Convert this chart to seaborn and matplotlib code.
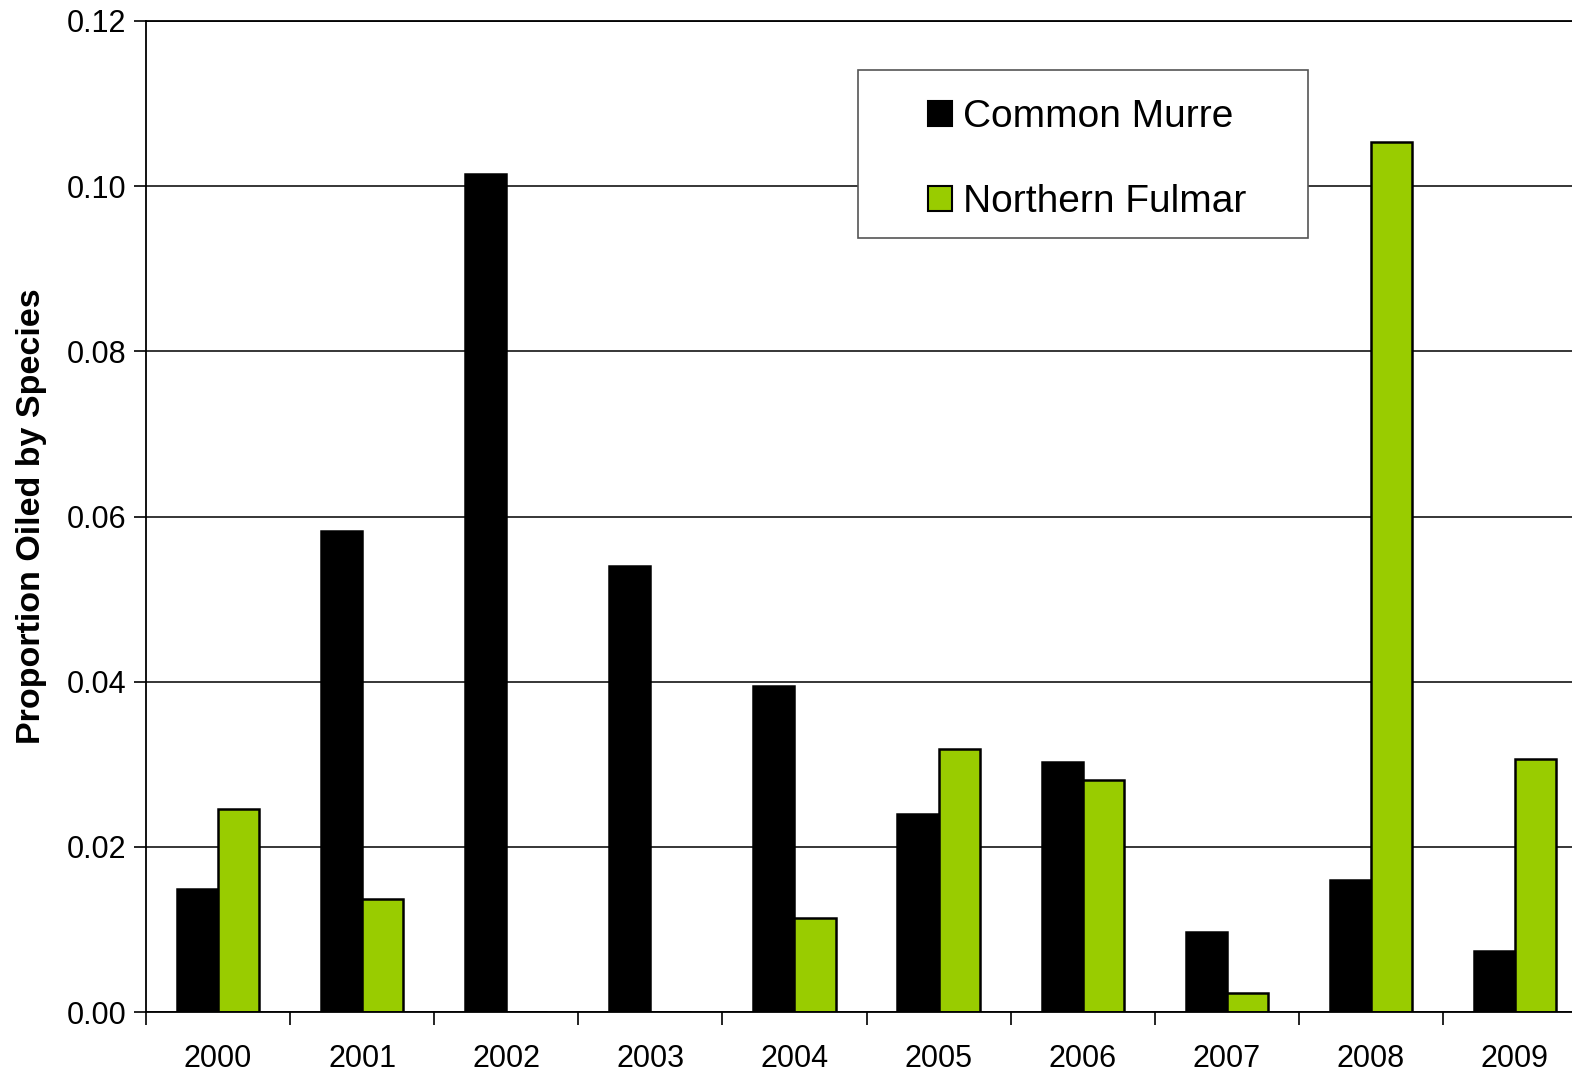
import numpy as np
import pandas as pd
import seaborn as sns
import matplotlib
matplotlib.use("Agg")
import matplotlib.pyplot as plt
from matplotlib.patches import Rectangle, Patch

years = ["2000", "2001", "2002", "2003", "2004", "2005", "2006", "2007", "2008", "2009"]
common_murre = [0.0149, 0.0582, 0.1015, 0.0540, 0.0395, 0.0240, 0.0303, 0.0097, 0.0160, 0.0074]
northern_fulmar = [0.0246, 0.0137, 0.0, 0.0, 0.0114, 0.0319, 0.0281, 0.0023, 0.1053, 0.0306]
species = ["Common Murre", "Northern Fulmar"]
colors = ["#000000", "#99CC00"]
y_ticks = [0.00, 0.02, 0.04, 0.06, 0.08, 0.10, 0.12]

df = pd.DataFrame({
    "Year": years * 2,
    "Proportion": common_murre + northern_fulmar,
    "Species": [species[0]] * len(years) + [species[1]] * len(years),
})

sns.set_theme(style="white")
plt.rcParams["font.family"] = ["Liberation Sans", "DejaVu Sans"]
plt.rcParams["text.color"] = "black"

W, H = 1572, 1074
fig = plt.figure(figsize=(W / 100, H / 100), dpi=100)
left, right, top, bottom = 146, 1587, 21, 1012
ax = fig.add_axes([left / W, 1 - bottom / H, (right - left) / W, (bottom - top) / H])

sns.barplot(data=df, x="Year", y="Proportion", hue="Species", order=years,
            hue_order=species, palette=colors, width=0.57, ax=ax,
            edgecolor="black", linewidth=1.8, legend=False, saturation=1)

ax.set_xlim(-0.5, len(years) - 0.5)
ax.set_ylim(0, 0.12)
ax.set_yticks(y_ticks)
ax.set_yticklabels([f"{v:.2f}" for v in y_ticks])
ax.yaxis.grid(True, color="black", linewidth=1.1)
ax.set_axisbelow(True)

# Year labels centred, tick marks on category boundaries
ax.set_xticks(range(len(years)))
ax.set_xticklabels(years)
ax.set_xticks(np.arange(-0.5, len(years), 1.0), minor=True)
ax.tick_params(axis="x", which="major", length=0, pad=23, labelsize=22, colors="black")
ax.tick_params(axis="x", which="minor", length=9, width=1.2, direction="out", color="black", bottom=True)
ax.tick_params(axis="y", which="major", length=9, width=1.2, direction="out", labelsize=22,
               colors="black", left=True, pad=5)

for side in ["left", "bottom", "top", "right"]:
    ax.spines[side].set_color("black")
    ax.spines[side].set_linewidth(1.3)

ax.set_xlabel("")
ax.set_ylabel("Proportion Oiled by Species", fontsize=24.5, fontweight="bold", labelpad=14, color="black")

# Legend with a square-cornered frame
fig.patches.append(Rectangle((858 / W, 1 - 238 / H), 450 / W, 168 / H, transform=fig.transFigure,
                             facecolor="white", edgecolor="#555555", linewidth=1.2, zorder=5))
handles = [Patch(facecolor=c, edgecolor="black", linewidth=1.5) for c in colors]
leg = fig.legend(handles, species, loc="center", bbox_to_anchor=((858 + 1308) / 2 / W + 0.0025, 1 - 159.5 / H),
                 frameon=False, fontsize=28, handlelength=0.62, handleheight=0.62,
                 handletextpad=0.28, labelspacing=1.27, labelcolor="black")
leg.set_zorder(6)

fig.savefig("out.png", dpi=100)
